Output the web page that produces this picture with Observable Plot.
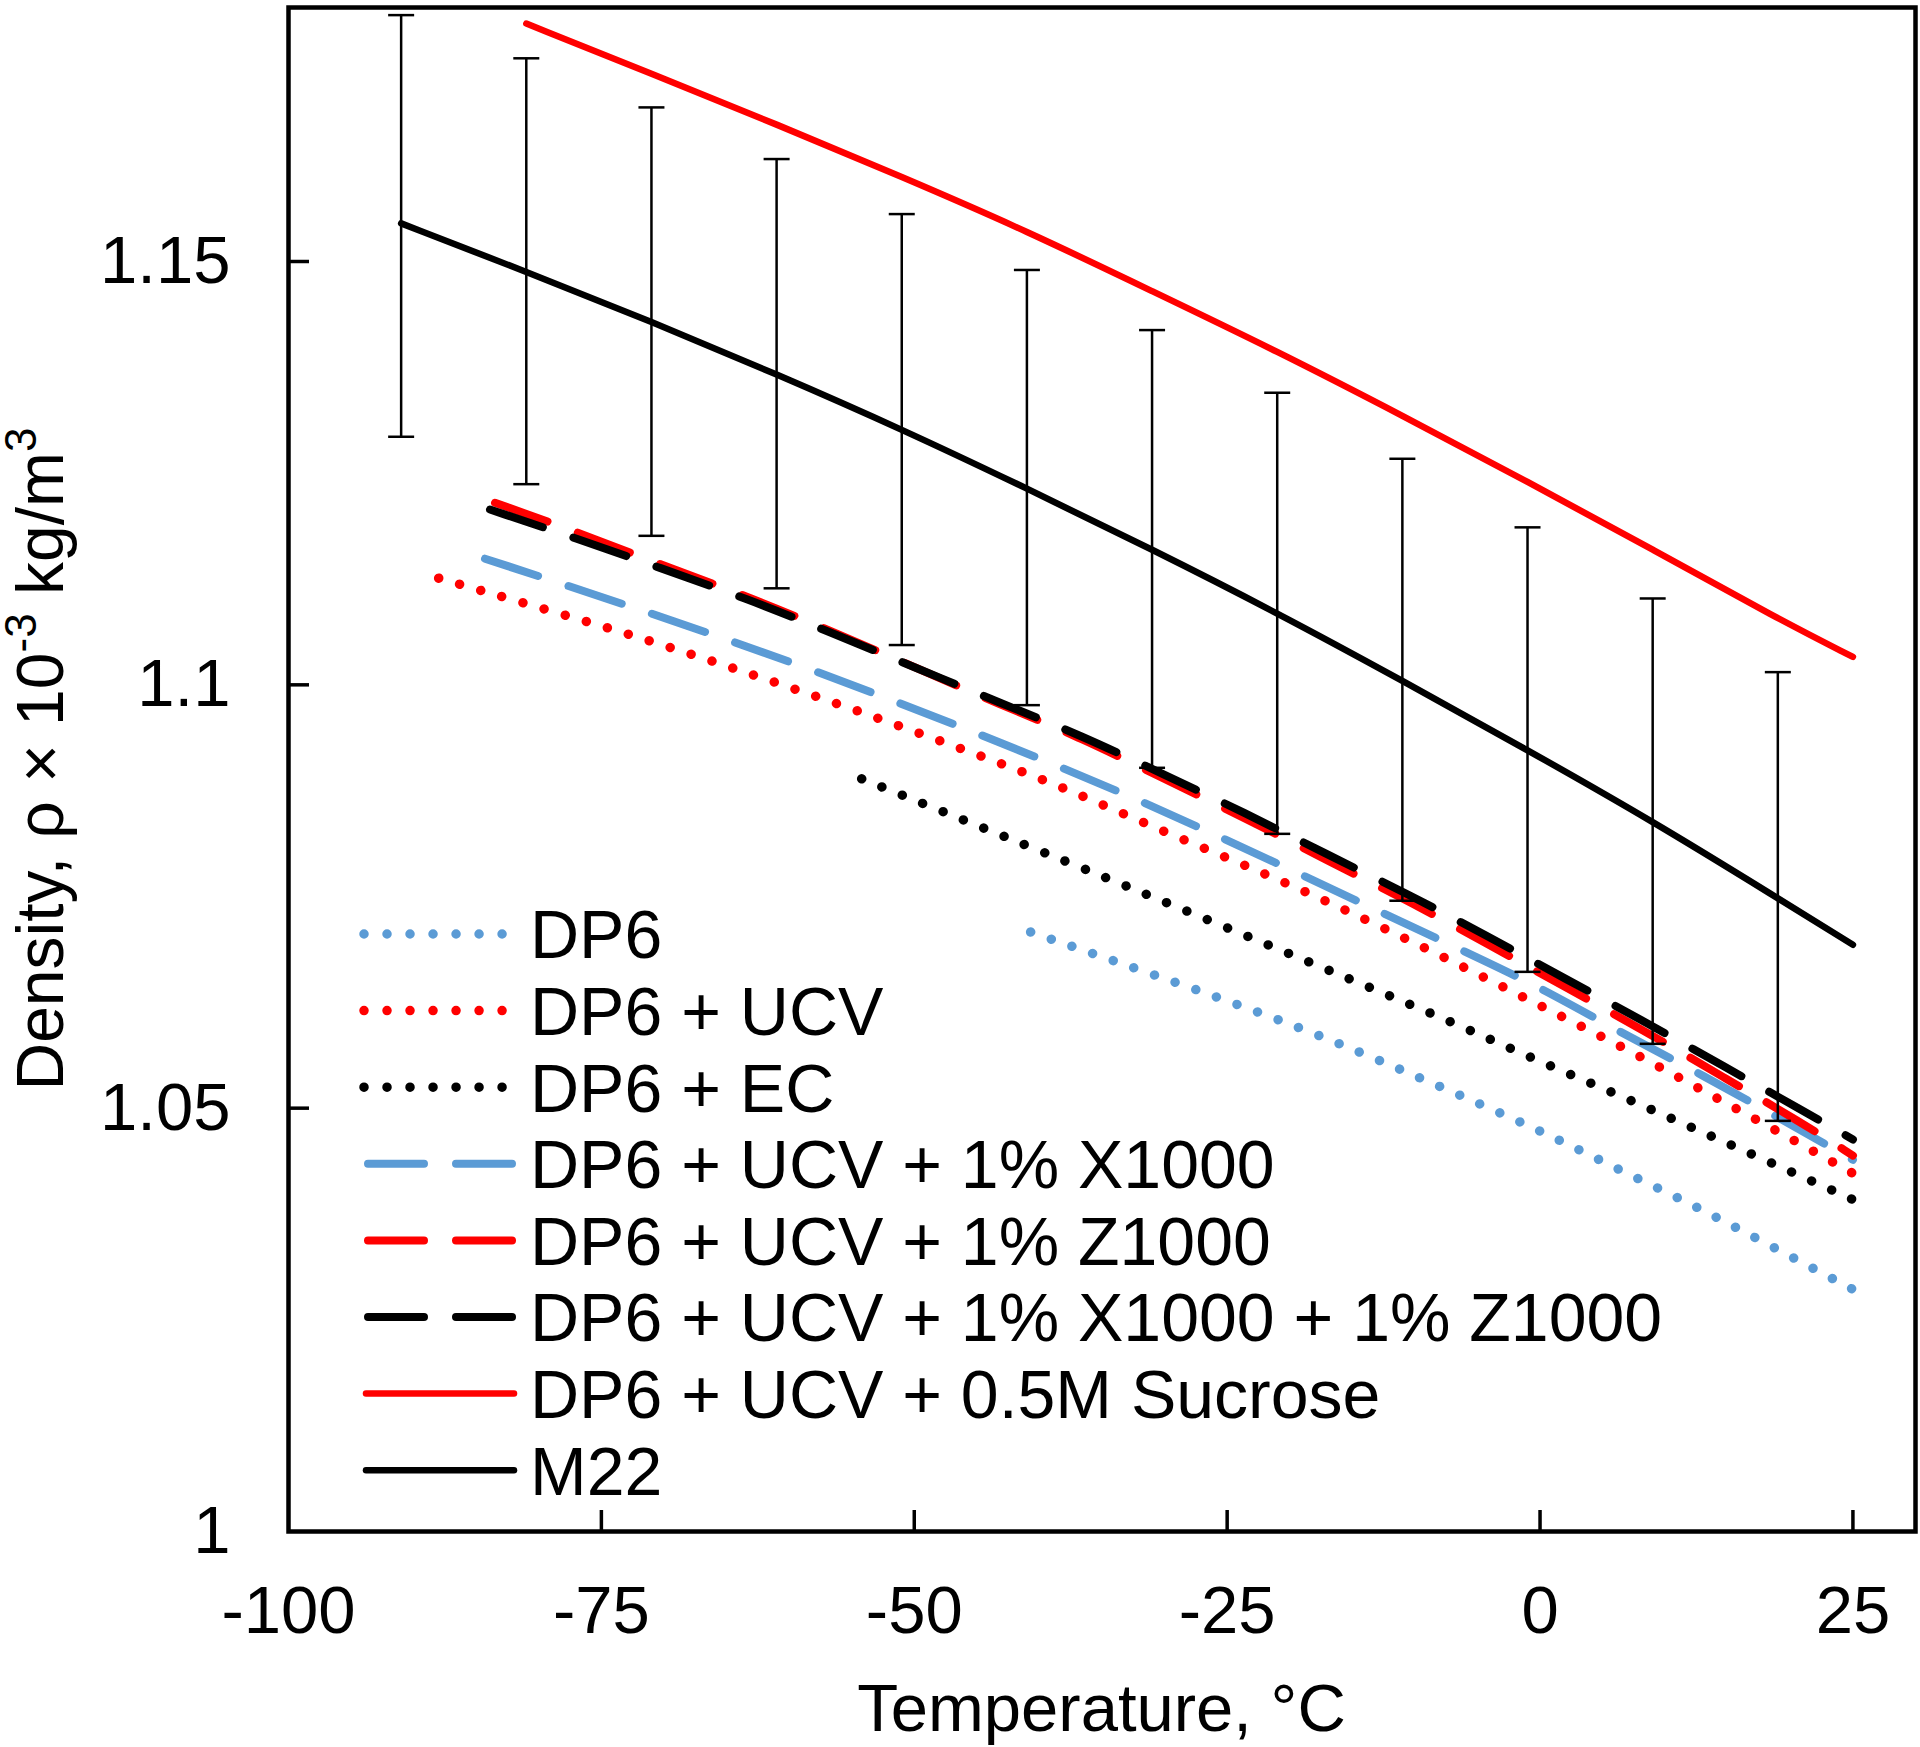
<!DOCTYPE html>
<html>
<head>
<meta charset="utf-8">
<script src="https://cdn.jsdelivr.net/npm/d3@7"></script>
<script src="https://cdn.jsdelivr.net/npm/@observablehq/plot@0.6"></script>
<style>
  html, body { margin: 0; padding: 0; background: #fff; overflow: hidden; }
  #chart svg { display: block; }
</style>
</head>
<body>
<div id="chart"></div>
<script>
// ---------- data ----------
const xTicks = [-100, -75, -50, -25, 0, 25];
const yTicks = [1, 1.05, 1.1, 1.15];

const seriesNames = [
  "DP6",
  "DP6 + UCV",
  "DP6 + EC",
  "DP6 + UCV + 1% X1000",
  "DP6 + UCV + 1% Z1000",
  "DP6 + UCV + 1% X1000 + 1% Z1000",
  "DP6 + UCV + 0.5M Sucrose",
  "M22"
];

// DP6 (blue dotted)
const dp6T = [-40.7, -30.9, -19.1, -9.6, 0, 6.2, 12.5, 18.6, 25];
const dp6V = [1.0708, 1.0658, 1.0596, 1.0536, 1.0474, 1.0428, 1.0384, 1.0336, 1.0286];

// DP6 + UCV (red dotted)
const ucvT = [-88, -79.4, -71, -62.7, -54.6, -46.3, -38.2, -30, -21.9, -13.9, -6.1, 0, 6.4, 12.5, 18.6, 25];
const ucvV = [1.1126, 1.1089, 1.1052, 1.1011, 1.0970, 1.0925, 1.0880, 1.0826, 1.0777, 1.0723, 1.0667, 1.0621, 1.0574, 1.0525, 1.0476, 1.0423];

// DP6 + EC (black dotted)
const ecT = [-54.2, -46, -33.1, -18.5, -7.2, -0.8, 5.6, 12, 18.4, 25];
const ecV = [1.0889, 1.0840, 1.0763, 1.0673, 1.0603, 1.0560, 1.0520, 1.0478, 1.0436, 1.0392];

// DP6 + UCV + 1% X1000 (blue dashed)
const xT = [-84.3, -73.3, -59.7, -46.3, -32.8, -19.8, -6.6, 0, 6.1, 12.5, 18.8, 25];
const xV = [1.1149, 1.1096, 1.1027, 1.0951, 1.0870, 1.0781, 1.0689, 1.0643, 1.0592, 1.0543, 1.0491, 1.0439];

// DP6 + UCV + 1% Z1000 (red dashed)
const zT = [-83.5, -77, -70.3, -63.4, -56.7, -50, -43.2, -36.6, -30.2, -23.6, -17.2, -10.7, -4.3, 2, 8.4, 14.6, 20.9, 25];
const zV = [1.1215, 1.1181, 1.1142, 1.1105, 1.1064, 1.1021, 1.0977, 1.0937, 1.0890, 1.0843, 1.0794, 1.0746, 1.0695, 1.0643, 1.0591, 1.0537, 1.0483, 1.0444];

// DP6 + UCV + 1% X1000 + 1% Z1000 (black dashed)
const xzT = [-83.9, -77, -70.3, -63.4, -56.7, -50, -43.2, -36.6, -30.2, -23.6, -17.2, -10.7, -4.3, 2, 8.4, 14.6, 20.9, 25];
const xzV = [1.1207, 1.1173, 1.1138, 1.1102, 1.1062, 1.1021, 1.0979, 1.0940, 1.0895, 1.0849, 1.0801, 1.0754, 1.0704, 1.0653, 1.0602, 1.0550, 1.0498, 1.0463];

// DP6 + UCV + 0.5M Sucrose (red solid)
const sucT = [-81, -71, -61, -51, -41, -31, -21, -11, -1, 9, 19, 25];
const sucV = [1.1781, 1.1722, 1.1662, 1.1600, 1.1536, 1.1465, 1.1394, 1.1318, 1.1240, 1.1160, 1.1078, 1.1033];

// M22 (black solid)
const m22T = [-91, -81, -71, -61, -51, -41, -31, -21, -11, -1, 9, 19, 25];
const m22V = [1.1545, 1.1488, 1.1429, 1.1367, 1.1302, 1.1232, 1.1160, 1.1085, 1.1005, 1.0923, 1.0839, 1.0748, 1.0693];

// M22 error bars
const errT    = [-91, -81, -71, -61, -51, -41, -31, -21, -11, -1, 9, 19];
const errLow  = [1.1293, 1.1237, 1.1176, 1.1114, 1.1047, 1.0976, 1.0902, 1.0824, 1.0745, 1.0661, 1.0576, 1.0485];
const errHigh = [1.1791, 1.1740, 1.1682, 1.1621, 1.1556, 1.1490, 1.1419, 1.1345, 1.1267, 1.1186, 1.1102, 1.1015];

// ---------- styles ----------
const BLUE = "#5B9BD5", RED = "#FF0000", BLACK = "#000000";
const FONT = '"Liberation Sans", Arial, Helvetica, sans-serif';
const W = 1920, H = 1747, mL = 288, mR = 5, mT = 7, mB = 216;
const plotW = W - mL - mR, plotH = H - mT - mB;
const TICK = 21;
const DOT_GAP = 22;

const styles = {
  dot:  {strokeWidth: 9.5, dash: "0.01,22", legendDash: "0.01,23"},
  dash: {strokeWidth: 8,   dash: "56,32",   legendDash: "56,32"},
  solid:{strokeWidth: 6.5, dash: null,      legendDash: null}
};

const series = [
  {name: seriesNames[0], t: dp6T, v: dp6V, color: BLUE,  kind: "dot"},
  {name: seriesNames[1], t: ucvT, v: ucvV, color: RED,   kind: "dot"},
  {name: seriesNames[2], t: ecT,  v: ecV,  color: BLACK, kind: "dot"},
  {name: seriesNames[3], t: xT,   v: xV,   color: BLUE,  kind: "dash"},
  {name: seriesNames[4], t: zT,   v: zV,   color: RED,   kind: "dash"},
  {name: seriesNames[5], t: xzT,  v: xzV,  color: BLACK, kind: "dash"},
  {name: seriesNames[6], t: sucT, v: sucV, color: RED,   kind: "solid"},
  {name: seriesNames[7], t: m22T, v: m22V, color: BLACK, kind: "solid"}
];

const errRows = errT.map((t, i) => ({t, lo: errLow[i], hi: errHigh[i]}));

const capSymbol = {
  draw(ctx, size) {
    const r = Math.sqrt(size / Math.PI);
    ctx.moveTo(-r, 0);
    ctx.lineTo(r, 0);
  }
};

const lineMarks = series.map(s => {
  const st = styles[s.kind];
  const opts = {
    x: "t", y: "v", stroke: s.color, strokeWidth: st.strokeWidth,
    strokeLinecap: "round", strokeLinejoin: "round", curve: "basis"
  };
  if (st.dash) opts.strokeDasharray = st.dash;
  return Plot.line(s.t.map((t, i) => ({t, v: s.v[i]})), opts);
});

const plot = Plot.plot({
  width: W, height: H,
  marginLeft: mL, marginRight: mR, marginTop: mT, marginBottom: mB,
  style: {fontFamily: FONT, fontSize: "67px", color: "black", background: "white", overflow: "visible"},
  x: {domain: [-100, 30], ticks: xTicks, tickSize: 0, tickPadding: 54, tickFormat: d => String(d), label: null},
  y: {domain: [1, 1.18], ticks: yTicks, tickSize: 0, tickPadding: 58, tickFormat: d => String(d), label: null},
  marks: [
    ...lineMarks,
    Plot.ruleX(errRows, {x: "t", y1: "lo", y2: "hi", stroke: BLACK, strokeWidth: 2.5}),
    Plot.dot(errRows, {x: "t", y: "hi", symbol: capSymbol, r: 13, fill: "none", stroke: BLACK, strokeWidth: 2.5}),
    Plot.dot(errRows, {x: "t", y: "lo", symbol: capSymbol, r: 13, fill: "none", stroke: BLACK, strokeWidth: 2.5}),
    Plot.tickX(xTicks.slice(1), {x: d => d, insetTop: plotH - TICK, stroke: BLACK, strokeWidth: 3.5}),
    Plot.tickY(yTicks.slice(1), {y: d => d, insetRight: plotW - TICK, stroke: BLACK, strokeWidth: 3.5}),
    Plot.frame({stroke: BLACK, strokeWidth: 4.5})
  ]
});

document.getElementById("chart").appendChild(plot);

const svg = d3.select(plot);

// dotted lines: fit the dot spacing so a dot sits on both ends of each line
plot.querySelectorAll("path").forEach(el => {
  const cs = getComputedStyle(el).strokeDasharray || "";
  if (!cs || cs === "none") return;
  const parts = cs.split(/[\s,]+/).map(parseFloat).filter(v => !isNaN(v));
  if (parts.length < 2 || parts[0] > 0.1) return;
  const L = el.getTotalLength();
  const n = Math.max(1, Math.round(L / DOT_GAP));
  const gap = (L - 1.5) / n;   // keep the last dot safely inside the path
  el.setAttribute("stroke-dasharray", `0.01,${(gap - 0.01).toFixed(4)}`);
  el.style.strokeDasharray = `0.01px, ${(gap - 0.01).toFixed(4)}px`;
});

// ---------- legend, axis titles (drawn into the same SVG) ----------
const lg = svg.append("g")
  .attr("font-family", FONT).attr("font-size", 68).attr("fill", BLACK)
  .attr("text-anchor", "start");
const ltx = 530, ly0 = 934, ldy = 76.6;
series.forEach((s, i) => {
  const y = ly0 + i * ldy;
  const st = styles[s.kind];
  let x0 = 366, x1 = 514;
  if (s.kind === "dot") { x0 = 364; x1 = 503; }
  if (s.kind === "dash") { x0 = 368; x1 = 512; }
  const ln = lg.append("line")
    .attr("x1", x0).attr("x2", x1).attr("y1", y).attr("y2", y)
    .attr("stroke", s.color).attr("stroke-width", st.strokeWidth)
    .attr("stroke-linecap", "round");
  if (st.legendDash) ln.attr("stroke-dasharray", st.legendDash);
  lg.append("text").attr("x", ltx).attr("y", y + 24.3)
    .attr("text-anchor", "start").text(s.name);
});

// y-axis title with superscripts
const yt = svg.append("text")
  .attr("font-family", FONT).attr("font-size", 66).attr("fill", BLACK)
  .attr("text-anchor", "middle")
  .attr("transform", "translate(63,759) rotate(-90)");
yt.append("tspan").text("Density, \u03C1 \u00D7 10");
yt.append("tspan").attr("font-size", 44).attr("dy", -27).text("-3");
yt.append("tspan").attr("dy", 27).text(" kg/m");
yt.append("tspan").attr("font-size", 44).attr("dy", -27).text("3");

// x-axis title
svg.append("text")
  .attr("font-family", FONT).attr("font-size", 67).attr("fill", BLACK)
  .attr("text-anchor", "middle")
  .attr("x", mL + plotW / 2).attr("y", 1731)
  .text("Temperature, \u00B0C");
</script>
</body>
</html>
